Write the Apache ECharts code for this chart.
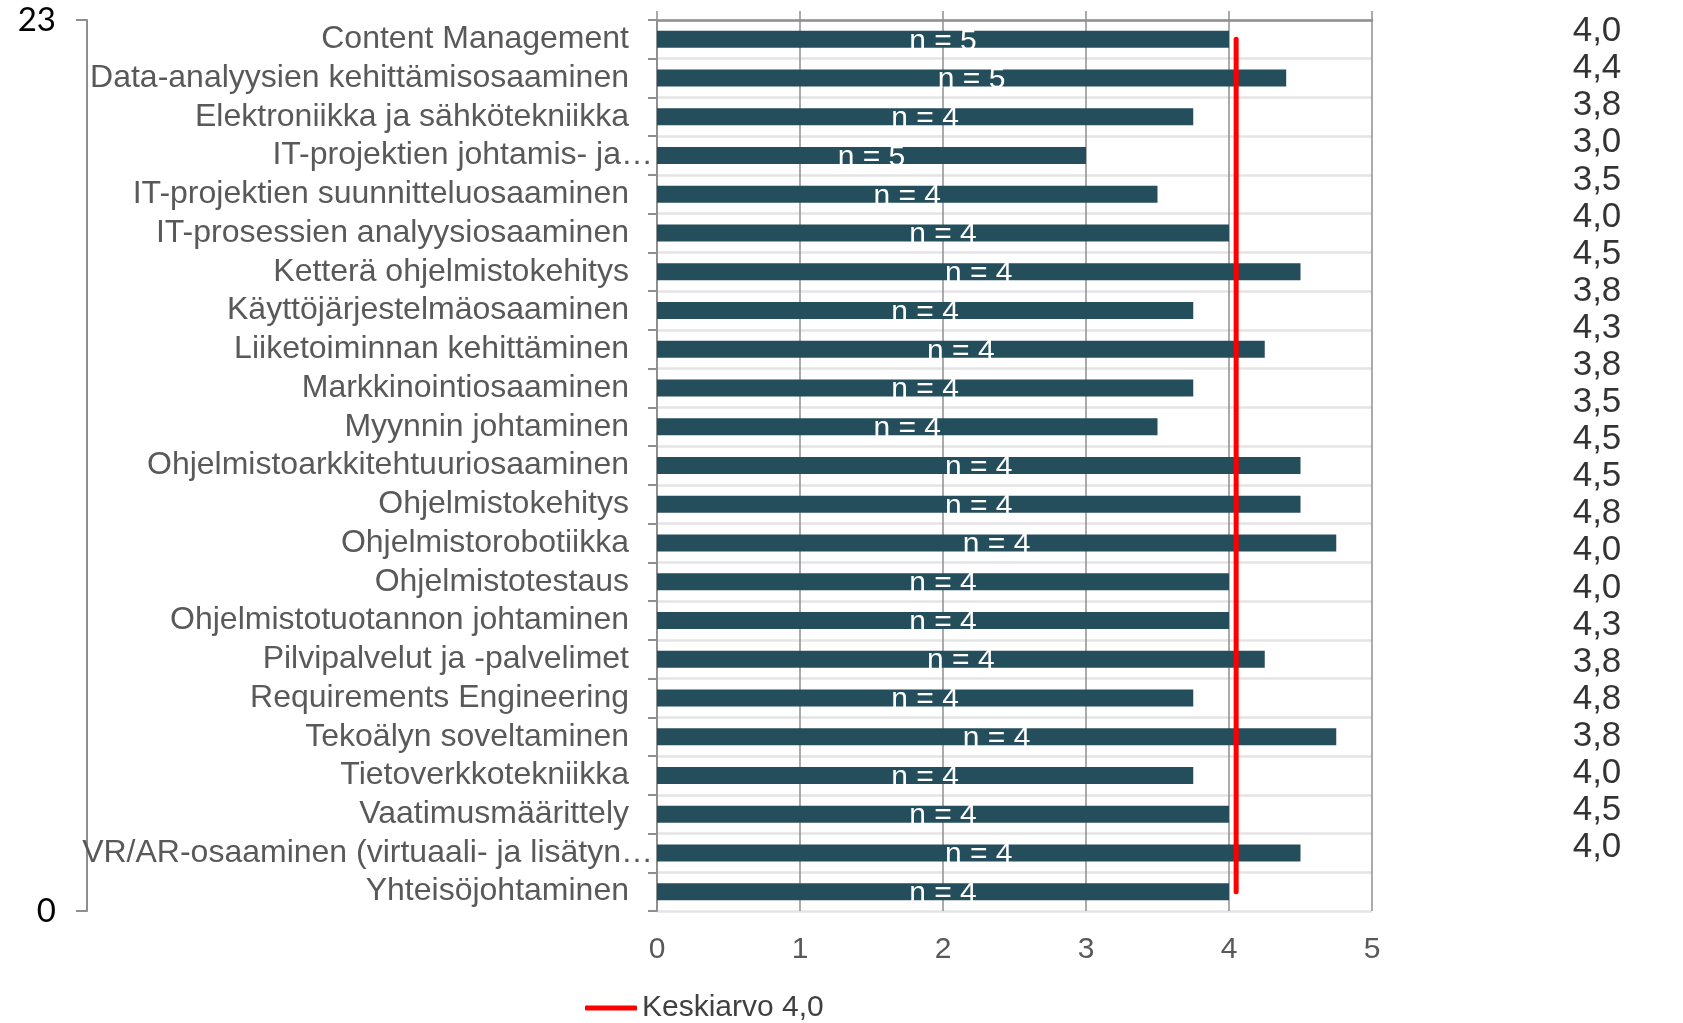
<!DOCTYPE html>
<html>
<head>
<meta charset="utf-8">
<script src="https://cdn.jsdelivr.net/npm/echarts@6/dist/echarts.min.js"></script>
<style>
html,body{margin:0;padding:0;background:#fff;}
#chart{width:1683px;height:1023px;}
</style>
</head>
<body>
<div id="chart"></div>
<script>
const categories = [
  "Content Management",
  "Data-analyysien kehittämisosaaminen",
  "Elektroniikka ja sähkötekniikka",
  "IT-projektien johtamis- ja…",
  "IT-projektien suunnitteluosaaminen",
  "IT-prosessien analyysiosaaminen",
  "Ketterä ohjelmistokehitys",
  "Käyttöjärjestelmäosaaminen",
  "Liiketoiminnan kehittäminen",
  "Markkinointiosaaminen",
  "Myynnin johtaminen",
  "Ohjelmistoarkkitehtuuriosaaminen",
  "Ohjelmistokehitys",
  "Ohjelmistorobotiikka",
  "Ohjelmistotestaus",
  "Ohjelmistotuotannon johtaminen",
  "Pilvipalvelut ja -palvelimet",
  "Requirements Engineering",
  "Tekoälyn soveltaminen",
  "Tietoverkkotekniikka",
  "Vaatimusmäärittely",
  "VR/AR-osaaminen (virtuaali- ja lisätyn…",
  "Yhteisöjohtaminen"
];
const scores = [4.0, 4.4, 3.75, 3.0, 3.5, 4.0, 4.5, 3.75, 4.25, 3.75, 3.5, 4.5, 4.5, 4.75, 4.0, 4.0, 4.25, 3.75, 4.75, 3.75, 4.0, 4.5, 4.0];
const nCounts = [5, 5, 4, 5, 4, 4, 4, 4, 4, 4, 4, 4, 4, 4, 4, 4, 4, 4, 4, 4, 4, 4, 4];
const xTicks = [0, 1, 2, 3, 4, 5];
const leftAxisTicks = [0, 23];
const meanValue = 4.05;
const meanSpan = [0.5, 22.5];
const meanLabel = "Keskiarvo 4,0";

const FONT = "'Liberation Sans', Arial, sans-serif";
const GRID_GRAY = '#8f8f8f';

// truncated labels overflow past the label column like in the original
const categoryItems = categories.map(c => c.endsWith('…')
  ? {value: c, textStyle: {padding: [0, -24, 0, 0]}}
  : c);

const chart = echarts.init(document.getElementById('chart'), null, {renderer: 'canvas'});

const option = {
  backgroundColor: '#ffffff',
  animation: false,
  grid: [
    {left: 657, right: 311, top: 20, bottom: 112, containLabel: false},
    {left: 1557, width: 80, top: 13, bottom: 157, containLabel: false}
  ],
  legend: {
    data: [meanLabel],
    left: 585,
    top: 993,
    padding: 0,
    icon: 'roundRect',
    itemWidth: 52,
    itemHeight: 5,
    textStyle: {fontFamily: FONT, fontSize: 30, color: '#404040'}
  },
  xAxis: [
    {
      gridIndex: 0, type: 'value', position: 'bottom',
      min: xTicks[0], max: xTicks[xTicks.length - 1], interval: 1,
      axisLine: {show: false}, axisTick: {show: false},
      axisLabel: {fontFamily: FONT, fontSize: 30, color: '#595959', margin: 24},
      splitLine: {show: true, lineStyle: {color: GRID_GRAY, width: 1.5}}
    },
    {
      gridIndex: 0, type: 'value', position: 'top',
      min: xTicks[0], max: xTicks[xTicks.length - 1], interval: 1,
      axisLine: {show: true, onZero: false, lineStyle: {color: GRID_GRAY, width: 2.5}},
      axisTick: {show: true, inside: false, length: 9, lineStyle: {color: GRID_GRAY, width: 1.5}},
      axisLabel: {show: false},
      splitLine: {show: false}
    },
    {
      gridIndex: 1, type: 'value', min: 0, max: 1, show: false
    }
  ],
  yAxis: [
    {
      gridIndex: 0, type: 'category', data: categoryItems, inverse: true,
      axisLine: {show: true, onZero: false, lineStyle: {color: GRID_GRAY, width: 2}},
      axisTick: {show: true, length: 9, lineStyle: {color: GRID_GRAY, width: 2}},
      axisLabel: {interval: 0, fontFamily: FONT, fontSize: 32, color: '#595959', margin: 28, padding: [3, 0, 0, 0]},
      splitLine: {show: true, interval: 0, lineStyle: {color: '#e4e4e4', width: 2.5}}
    },
    {
      gridIndex: 0, type: 'value', position: 'left', offset: 570,
      min: leftAxisTicks[0], max: leftAxisTicks[1], interval: leftAxisTicks[1],
      axisLine: {show: true, onZero: false, lineStyle: {color: GRID_GRAY, width: 2}},
      axisTick: {show: true, length: 11, lineStyle: {color: GRID_GRAY, width: 2}},
      axisLabel: {fontFamily: "Lato, 'Open Sans', sans-serif", fontSize: 33, color: '#000000', margin: 31},
      splitLine: {show: false}
    },
    {
      gridIndex: 1, type: 'category', data: categories, inverse: true, show: false
    }
  ],
  series: [
    {
      type: 'bar', xAxisIndex: 0, yAxisIndex: 0,
      data: scores, barWidth: 17,
      itemStyle: {color: '#244e5b'},
      label: {
        show: true, position: 'inside', offset: [0, 2],
        fontFamily: FONT, fontSize: 30, color: '#ffffff',
        formatter: p => 'n = ' + nCounts[p.dataIndex]
      },
      z: 2
    },
    {
      name: meanLabel, type: 'line', xAxisIndex: 0, yAxisIndex: 1,
      data: meanSpan.map(y => [meanValue, y]),
      symbol: 'none',
      lineStyle: {color: '#ff0000', width: 5, cap: 'round'},
      itemStyle: {color: '#ff0000'},
      z: 5
    },
    {
      type: 'scatter', xAxisIndex: 2, yAxisIndex: 2,
      data: scores.map((v, i) => [0.5, i]),
      symbolSize: 1,
      itemStyle: {color: 'rgba(0,0,0,0)'},
      label: {
        show: true, position: 'inside',
        fontFamily: FONT, fontSize: 35, color: '#000000',
        formatter: p => scores[p.dataIndex].toFixed(1).replace('.', ',')
      }
    }
  ]
};
chart.setOption(option);
</script>
</body>
</html>
